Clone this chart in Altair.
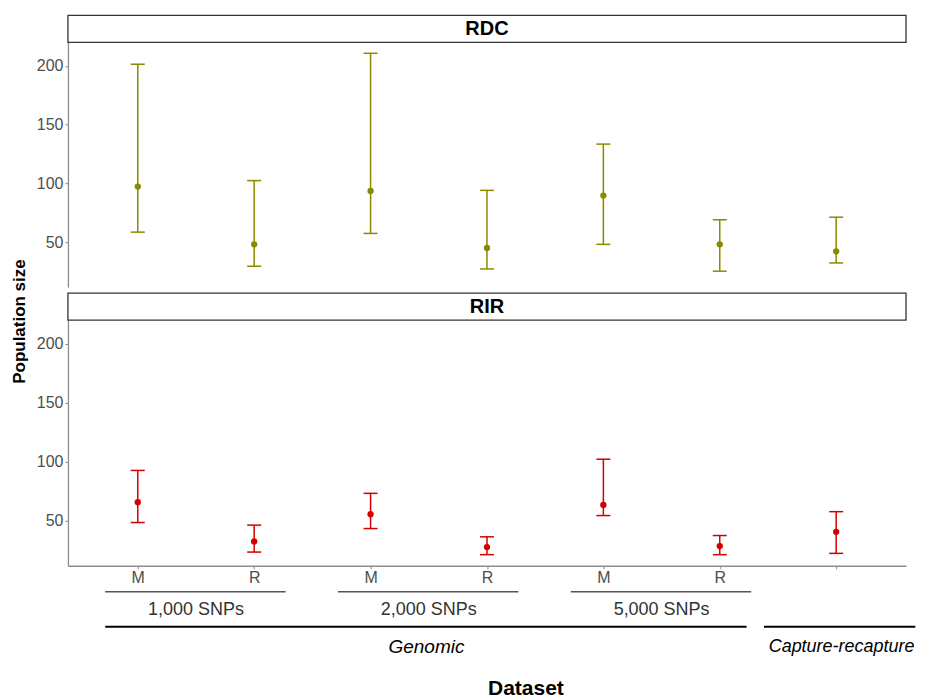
import altair as alt
import pandas as pd

# ---- data ----
categories = ["1,000 SNPs M", "1,000 SNPs R", "2,000 SNPs M", "2,000 SNPs R",
              "5,000 SNPs M", "5,000 SNPs R", "Capture-recapture"]
tick_labels = ["M", "R", "M", "R", "M", "R", ""]

rdc_est = [97.4, 48.3, 93.7, 45.2, 89.8, 48.3, 42.4]
rdc_lo = [58.7, 29.7, 57.6, 27.4, 48.3, 25.5, 32.5]
rdc_hi = [201.4, 102.5, 210.7, 94.2, 133.5, 69.2, 71.4]

rir_est = [65.8, 32.6, 55.6, 27.8, 63.5, 28.7, 40.7]
rir_lo = [48.6, 23.6, 43.5, 21.4, 54.5, 21.4, 22.5]
rir_hi = [92.7, 46.4, 73.3, 36.5, 102.2, 37.6, 57.8]

snp_groups = ["1,000 SNPs", "2,000 SNPs", "5,000 SNPs"]
snp_members = [(0, 1), (2, 3), (4, 5)]
method_groups = ["Genomic", "Capture-recapture"]
method_members = [(0, 5), (6, 6)]

panels = ["RDC", "RIR"]
panel_colors = ["#8A8A00", "#D40000"]

FONT = "Liberation Sans"
W, H = 839, 245

xscale = alt.Scale(domain=[-0.6, 6.6], nice=False, zero=False)
yscale = alt.Scale(domain=[12, 220], nice=False, zero=False)
label_expr = "[" + ",".join(f"'{t}'" for t in tick_labels) + "][datum.value]"


def make_df(est, lo, hi):
    return pd.DataFrame({"idx": list(range(len(categories))), "category": categories,
                         "est": est, "lo": lo, "hi": hi})


def panel(name, color, est, lo, hi, bottom):
    df = make_df(est, lo, hi)
    if bottom:
        xaxis = alt.Axis(values=list(range(len(categories))), labelExpr=label_expr,
                         grid=False, title="Dataset", titleFontSize=21, titleFontWeight="bold",
                         titleColor="black", titlePadding=92, labelPadding=1, titleX=458)
        yaxis = alt.Axis(values=[50, 100, 150, 200], grid=False, title="Population size",
                         titleFontSize=17, titleFontWeight="bold", titleColor="black",
                         titleY=1, titlePadding=8)
    else:
        xaxis = None
        yaxis = alt.Axis(values=[50, 100, 150, 200], grid=False, title=None)
    X = lambda f: alt.X(f, type="quantitative", scale=xscale, axis=xaxis)
    base = alt.Chart(df)
    bars = base.mark_rule(color=color, strokeWidth=1.5).encode(
        x=X("idx"), y=alt.Y("lo:Q", scale=yscale, axis=yaxis), y2="hi:Q")
    cap_lo = base.mark_rule(color=color, strokeWidth=1.5, xOffset=-7, x2Offset=7).encode(
        x=X("idx"), x2="idx", y=alt.Y("lo:Q", scale=yscale, axis=yaxis))
    cap_hi = base.mark_rule(color=color, strokeWidth=1.5, xOffset=-7, x2Offset=7).encode(
        x=X("idx"), x2="idx", y=alt.Y("hi:Q", scale=yscale, axis=yaxis))
    pts = base.mark_circle(color=color, size=40, opacity=1).encode(
        x=X("idx"), y=alt.Y("est:Q", scale=yscale, axis=yaxis),
        tooltip=["category", "est", "lo", "hi"])
    sdf = pd.DataFrame({"panel": [name]})
    strip = alt.Chart(sdf).mark_rect(fill="white", stroke="#333333", strokeWidth=1.3).encode(
        x=alt.value(0), x2=alt.value(W), y=alt.value(-27), y2=alt.value(0))
    strip_txt = alt.Chart(sdf).mark_text(font=FONT, fontSize=20, fontWeight="bold",
                                         color="black", baseline="middle").encode(
        x=alt.value(W / 2), y=alt.value(-13), text="panel:N")
    layers = [strip, strip_txt, bars, cap_lo, cap_hi, pts]
    if bottom:
        snp = pd.DataFrame({"label": snp_groups,
                            "start": [a - 0.28 for a, b in snp_members],
                            "end": [b + 0.27 for a, b in snp_members],
                            "mid": [(a + b) / 2 for a, b in snp_members]})
        meth = pd.DataFrame({"label": method_groups,
                             "start": [-0.28, 5.38],
                             "end": [5.23, 6.68],
                             "mid": [2.48, 5.42]})
        snp_lines = alt.Chart(snp).mark_rule(color="#555555", strokeWidth=1.3).encode(
            x=X("start"), x2="end", y=alt.value(272))
        snp_txt = alt.Chart(snp).mark_text(font=FONT, fontSize=18, color="#333333",
                                           baseline="middle").encode(
            x=X("mid"), y=alt.value(290), text="label:N")
        meth_lines = alt.Chart(meth).mark_rule(color="black", strokeWidth=2).encode(
            x=X("start"), x2="end", y=alt.value(307))
        gen_txt = alt.Chart(meth.iloc[[0]]).mark_text(font=FONT, fontSize=19, fontStyle="italic",
                                                     color="black", baseline="middle").encode(
            x=X("mid"), y=alt.value(327), text="label:N")
        cr_txt = alt.Chart(meth.iloc[[1]]).mark_text(font=FONT, fontSize=18, fontStyle="italic",
                                                    color="black", baseline="middle",
                                                    align="left").encode(
            x=X("mid"), y=alt.value(327), text="label:N")
        layers += [snp_lines, snp_txt, meth_lines, gen_txt, cr_txt]
    return alt.layer(*layers).properties(width=W, height=H)


top = panel("RDC", panel_colors[0], rdc_est, rdc_lo, rdc_hi, False)
bot = panel("RIR", panel_colors[1], rir_est, rir_lo, rir_hi, True).properties(height=246)

chart = alt.vconcat(top, bot, spacing=33, bounds="flush").properties(
    padding={"left": 2, "top": 6, "right": 0, "bottom": 0}
).configure_view(stroke=None).configure_axis(
    labelFont=FONT, titleFont=FONT, labelFontSize=16, labelColor="#4d4d4d",
    domainColor="#8c8c8c", tickColor="#8c8c8c", tickSize=3, domainWidth=1.3,
    labelPadding=2
)

chart.save("out.html", embed_options={"renderer": "svg", "actions": False})
